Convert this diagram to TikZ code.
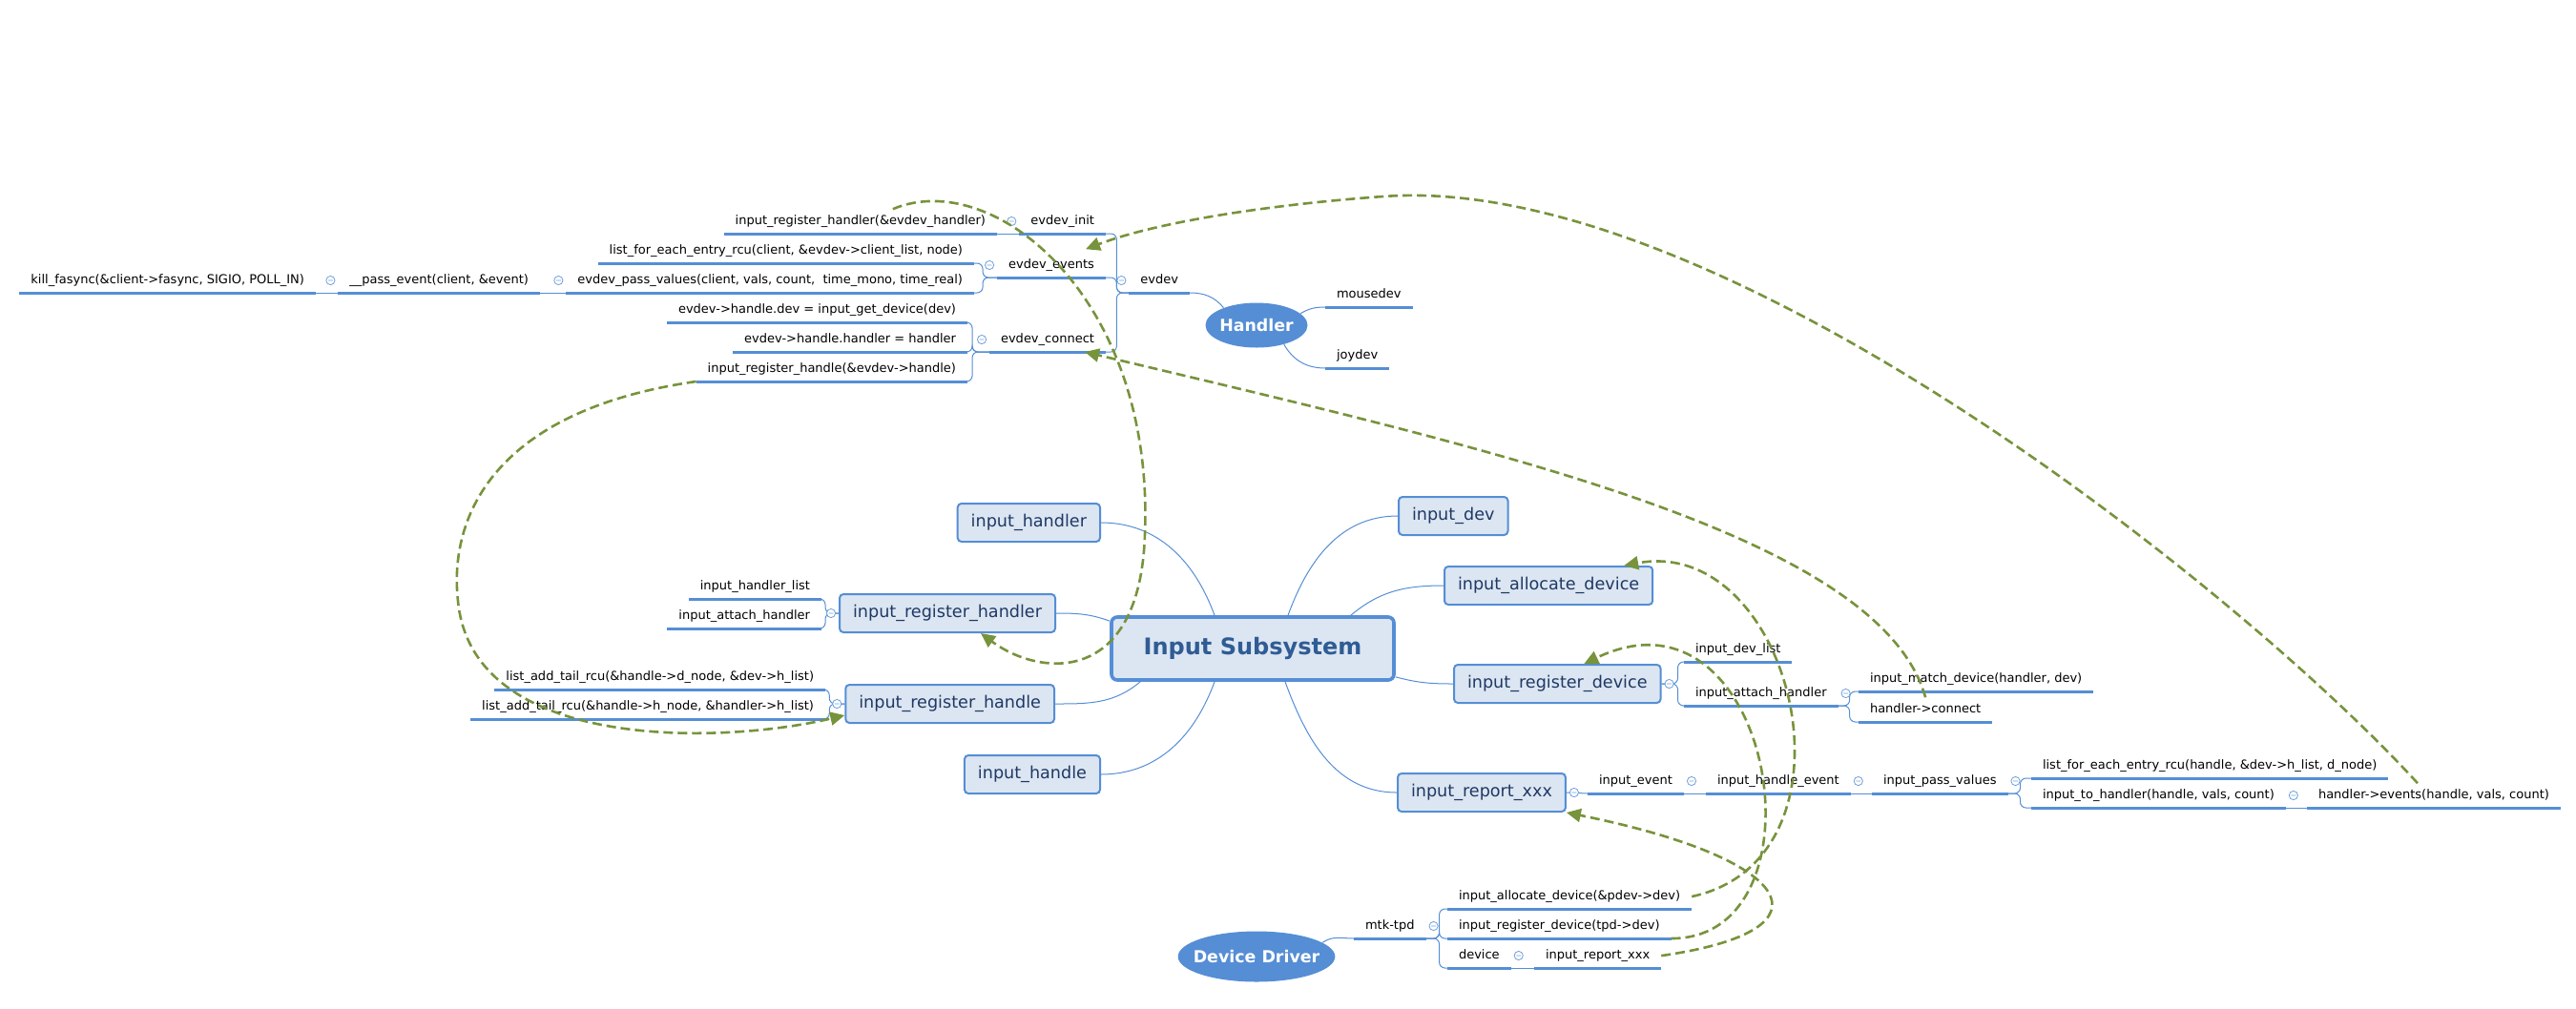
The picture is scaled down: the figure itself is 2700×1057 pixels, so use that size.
\documentclass[tikz,border=0pt]{standalone}
\usepackage{fontspec}
\setmainfont{DejaVu Sans}
\usetikzlibrary{shapes.geometric,arrows.meta,calc}

\definecolor{xblue}{HTML}{558ED5}
\definecolor{xfill}{HTML}{DCE6F2}
\definecolor{xnavy}{HTML}{1F3864}
\definecolor{xtitle}{HTML}{2F5C94}
\definecolor{xgreen}{HTML}{77933C}

\tikzset{
  central/.style={draw=xblue, line width=1.8pt, fill=xfill, rounded corners=3pt, text=xtitle,
    font=\fontsize{12}{14}\selectfont\bfseries, inner sep=0pt, minimum width=148pt, minimum height=33pt},
  topic/.style={draw=xblue, line width=1pt, fill=xfill, rounded corners=2pt, text=xnavy,
    font=\fontsize{8.8}{10.5}\selectfont, inner xsep=7pt, minimum height=20pt, text height=6.5pt, text depth=1.8pt},
  mainidea/.style={ellipse, fill=xblue, text=white, inner ysep=0pt, font=\fontsize{8.7}{10}\selectfont\bfseries},
  uline/.style={draw=xblue, line width=1.5pt},
  leaf/.style={font=\fontsize{6.5}{8}\selectfont, inner xsep=5.8pt, inner ysep=3pt, text height=5pt, text depth=1.5pt,
    append after command={(\tikzlastnode.south west) edge[uline] (\tikzlastnode.south east)}},
  branch/.style={draw=xblue, line width=0.5pt},
  brace/.style={branch, rounded corners=3pt},
  foldmark/.style={draw=xblue!85, line width=0.4pt, fill=white},
  rel/.style={draw=xgreen, line width=1.3pt, dash pattern=on 5pt off 2.5pt, -{Triangle[length=7.5pt,width=7pt]}}
}

\newcommand{\fold}[1]{\draw[foldmark] #1 circle[radius=2.3pt] +(-1.2pt,0) -- +(1.2pt,0);}

\begin{document}
\begin{tikzpicture}[x=0.5pt,y=-0.5pt]
\useasboundingbox (0,0) rectangle (2700,1057);

\node[central] (sub) at (1313,680) {Input Subsystem};

\node[topic, anchor=east] (ihandler) at (1154,548) {input\_handler};
\node[topic, anchor=east] (irh) at (1107,643) {input\_register\_handler};
\node[topic, anchor=east] (irhd) at (1106,738) {input\_register\_handle};
\node[topic, anchor=east] (ihandle) at (1154,812) {input\_handle};
\node[topic, anchor=west] (idev) at (1465,541) {input\_dev};
\node[topic, anchor=west] (iad) at (1513,614) {input\_allocate\_device};
\node[topic, anchor=west] (ird) at (1523,717) {input\_register\_device};
\node[topic, anchor=west] (irx) at (1464,831) {input\_report\_xxx};

\node[mainidea, inner xsep=-1pt, minimum width=53.5pt, minimum height=23.5pt] (handler) at (1317,341) {Handler};
\node[mainidea, inner xsep=-4pt, minimum width=82pt, minimum height=26.5pt] (driver) at (1317,1003) {Device Driver};

% handler side
\node[leaf, anchor=south east] (evdev) at (1247,307) {evdev};
\node[leaf, anchor=south west] (mousedev) at (1389,322) {mousedev};
\node[leaf, anchor=south west] (joydev) at (1389,386) {joydev};
\node[leaf, anchor=south east] (evinit) at (1159,245) {evdev\_init};
\node[leaf, anchor=south east] (evevents) at (1159,291) {evdev\_events};
\node[leaf, anchor=south east] (evconnect) at (1159,369) {evdev\_connect};
\node[leaf, anchor=south east] (regh) at (1045,245) {input\_register\_handler(\&evdev\_handler)};
\node[leaf, anchor=south east] (clist) at (1021,276) {list\_for\_each\_entry\_rcu(client, \&evdev->client\_list, node)};
\node[leaf, anchor=south east] (passval) at (1021,307) {evdev\_pass\_values(client, vals, count,\ \ time\_mono, time\_real)};
\node[leaf, anchor=south east] (passev) at (566,307) {\_\_pass\_event(client, \&event)};
\node[leaf, anchor=south east] (killf) at (331,307) {kill\_fasync(\&client->fasync, SIGIO, POLL\_IN)};
\node[leaf, anchor=south east] (hdev) at (1014,338) {evdev->handle.dev = input\_get\_device(dev)};
\node[leaf, anchor=south east] (hhand) at (1014,369) {evdev->handle.handler = handler};
\node[leaf, anchor=south east] (reghd) at (1014,400) {input\_register\_handle(\&evdev->handle)};

\node[leaf, anchor=south east] (hlist) at (861,628) {input\_handler\_list};
\node[leaf, anchor=south east] (attach) at (861,659) {input\_attach\_handler};
\node[leaf, anchor=south east] (dnode) at (865,723) {list\_add\_tail\_rcu(\&handle->d\_node, \&dev->h\_list)};
\node[leaf, anchor=south east] (hnode) at (865,754) {list\_add\_tail\_rcu(\&handle->h\_node, \&handler->h\_list)};

\node[leaf, anchor=south west] (devlist) at (1765,694) {input\_dev\_list};
\node[leaf, anchor=south west] (attach2) at (1765,740) {input\_attach\_handler};
\node[leaf, anchor=south west] (match) at (1948,725) {input\_match\_device(handler, dev)};
\node[leaf, anchor=south west] (hconn) at (1948,757) {handler->connect};

\node[leaf, anchor=south west] (ievent) at (1664,832) {input\_event};
\node[leaf, anchor=south west] (hevent) at (1788,832) {input\_handle\_event};
\node[leaf, anchor=south west] (passv) at (1962,832) {input\_pass\_values};
\node[leaf, anchor=south west] (hlist2) at (2129,816) {list\_for\_each\_entry\_rcu(handle, \&dev->h\_list, d\_node)};
\node[leaf, anchor=south west] (tohand) at (2129,847) {input\_to\_handler(handle, vals, count)};
\node[leaf, anchor=south west] (hev) at (2418,847) {handler->events(handle, vals, count)};

% device driver side
\node[leaf, anchor=south west] (mtk) at (1419,984) {mtk-tpd};
\node[leaf, anchor=south west] (alloc) at (1517,953) {input\_allocate\_device(\&pdev->dev)};
\node[leaf, anchor=south west] (regdev) at (1517,984) {input\_register\_device(tpd->dev)};
\node[leaf, anchor=south west] (device) at (1517,1015) {device};
\node[leaf, anchor=south west] (report) at (1608,1015) {input\_report\_xxx};

\draw[branch] (ihandler.east) to[out=0,in=110] ($(sub.north)+(-40,0)$);
\draw[branch] (irh.east) to[out=0,in=160] ($(sub.north west)+(0,6)$);
\draw[branch] (irhd.east) to[out=0,in=220] ($(sub.south west)+(32,0)$);
\draw[branch] (ihandle.east) to[out=0,in=-110] ($(sub.south)+(-40,0)$);
\draw[branch] ($(sub.north)+(37,0)$) to[out=70,in=180] (idev.west);
\draw[branch] ($(sub.north east)+(-47,0)$) to[out=40,in=180] (iad.west);
\draw[branch] ($(sub.south east)+(0,-5)$) to[out=-15,in=180] (ird.west);
\draw[branch] ($(sub.south)+(34,0)$) to[out=-70,in=180] (irx.west);

\draw[branch] (handler.152) to[out=130,in=0] (evdev.south east);
\draw[branch] (handler.15) to[out=30,in=180] (mousedev.south west);
\draw[branch] (handler.-35) to[out=-60,in=180] (joydev.south west);
\draw[branch] (driver.12) to[out=35,in=180] (mtk.south west);

\foreach \c in {evinit,evevents,evconnect}
  \draw[brace] (evdev.south west) -- ++(-13,0) |- (\c.south east);
\draw[branch] (regh.south east) -- (evinit.south west);
\foreach \c in {clist,passval}
  \draw[brace] (evevents.south west) -- ++(-15,0) |- (\c.south east);
\draw[branch] (passev.south east) -- (passval.south west);
\draw[branch] (killf.south east) -- (passev.south west);
\foreach \c in {hdev,hhand,reghd}
  \draw[brace] (evconnect.south west) -- ++(-18,0) |- (\c.south east);

\foreach \c in {hlist,attach}
  \draw[brace] (irh.west) -- ++(-14,0) |- (\c.south east);
\foreach \c in {dnode,hnode}
  \draw[brace] (irhd.west) -- ++(-16,0) |- (\c.south east);
\foreach \c in {devlist,attach2}
  \draw[brace] (ird.east) -- ++(17,0) |- (\c.south west);
\foreach \c in {match,hconn}
  \draw[brace] (attach2.south east) -- ++(12,0) |- (\c.south west);
\draw[branch] (irx.east) -- (ievent.south west);
\draw[branch] (ievent.south east) -- (hevent.south west);
\draw[branch] (hevent.south east) -- (passv.south west);
\foreach \c in {hlist2,tohand}
  \draw[brace] (passv.south east) -- ++(13,0) |- (\c.south west);
\draw[branch] (tohand.south east) -- (hev.south west);
\foreach \c in {alloc,regdev,device}
  \draw[brace] (mtk.south east) -- ++(14,0) |- (\c.south west);
\draw[branch] (device.south east) -- (report.south west);

\fold{($(evdev.south west)+(-8,-13)$)}
\fold{($(evinit.south west)+(-8,-13)$)}
\fold{($(evevents.south west)+(-8,-13)$)}
\fold{($(evconnect.south west)+(-8,-13)$)}
\fold{($(passval.south west)+(-8,-13)$)}
\fold{($(passev.south west)+(-8,-13)$)}
\fold{($(irh.west)+(-8,0)$)}
\fold{($(irhd.west)+(-8,0)$)}
\fold{($(ird.east)+(8,0)$)}
\fold{($(irx.east)+(8,0)$)}
\fold{($(attach2.south east)+(8,-13)$)}
\fold{($(ievent.south east)+(8,-13)$)}
\fold{($(hevent.south east)+(8,-13)$)}
\fold{($(passv.south east)+(8,-13)$)}
\fold{($(tohand.south east)+(8,-13)$)}
\fold{($(mtk.south east)+(8,-13)$)}
\fold{($(device.south east)+(8,-13)$)}

\draw[rel] ($(regh.north)+(34,0)$) .. controls (1040,175) and (1210,310) .. (1200,560)
  .. controls (1195,720) and (1090,710) .. ($(irh.south)+(35,0)$);
\draw[rel] (reghd.south west) .. controls (520,430) and (470,540) .. (480,630)
  .. controls (495,790) and (760,780) .. ($(irhd.west)+(0,12)$);
\draw[rel] (hconn.north) .. controls (1970,560) and (1560,470) .. ($(evconnect.south east)+(-22,0)$);
\draw[rel] ($(hev.north)+(-17,0)$) .. controls (2350,620) and (1800,180) .. (1450,206)
  .. controls (1350,213) and (1220,230) .. ($(evevents.north east)+(-21,-4)$);
\draw[rel] (alloc.east) .. controls (1960,900) and (1880,560) .. ($(iad.north east)+(-31,0)$);
\draw[rel] (regdev.south east) .. controls (1920,985) and (1860,600) .. ($(ird.north)+(28,0)$);
\draw[rel] (report.east) .. controls (1930,975) and (1880,900) .. (irx.south east);
\end{tikzpicture}
\end{document}
